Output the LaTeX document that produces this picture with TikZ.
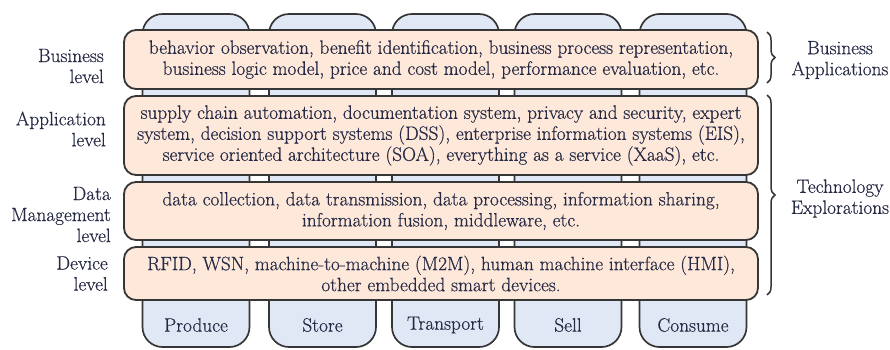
\documentclass[tikz,border=0pt]{standalone}
\usepackage{fontspec}
\setmainfont{Latin Modern Roman}[FakeBold=0.5]
\usetikzlibrary{decorations.pathreplacing}
\definecolor{colfill}{HTML}{E1E8F5}
\definecolor{layfill}{HTML}{FDE8DA}
\definecolor{edge}{HTML}{363636}
\definecolor{ink}{HTML}{262A45}
\begin{document}
\begin{tikzpicture}[x=1pt,y=-1pt,
  every node/.style={font=\fontsize{19.3}{21}\selectfont, text=ink},
  colbox/.style={draw=edge, line width=1.7pt, fill=colfill, rounded corners=20pt,
    minimum width=107pt, minimum height=333pt, inner sep=0pt},
  laybox/.style={draw=edge, line width=1.8pt, fill=layfill, rounded corners=12pt,
    minimum width=634pt, align=center, inner sep=0pt},
  lvl/.style={anchor=east, align=right, inner sep=0pt},
  cat/.style={align=center, inner sep=0pt},
  brc/.style={draw=edge, line width=1.5pt, decorate, decoration={brace, amplitude=8pt}}
]
\useasboundingbox (0,0) rectangle (890,349);
% columns
\node[colbox] (c1) at (196,180.5) {};
\node[colbox] (c2) at (322.5,180.5) {};
\node[colbox] (c3) at (445.5,180.5) {};
\node[colbox] (c4) at (568,180.5) {};
\node[colbox] (c5) at (693,180.5) {};
\node (t1) at (196,325) {Produce};
\node (t2) at (322.5,325) {Store};
\node (t3) at (445.5,325) {Transport};
\node (t4) at (568,325) {Sell};
\node (t5) at (693,325) {Consume};
% layers
\node[laybox, minimum height=59pt] (L1) at (441,59.5)
  {behavior observation, benefit identification, business process representation,\\
   business logic model, price and cost model, performance evaluation, etc.};
\node[laybox, minimum height=79pt] (L2) at (441,135.5)
  {supply chain automation, documentation system, privacy and security, expert\\
   system, decision support systems (DSS), enterprise information systems (EIS),\\
   service oriented architecture (SOA), everything as a service (XaaS), etc.};
\node[laybox, minimum height=58pt] (L3) at (441,211)
  {data collection, data transmission, data processing, information sharing,\\
   information fusion, middleware, etc.};
\node[laybox, minimum height=53pt] (L4) at (441,273.5)
  {RFID, WSN, machine-to-machine (M2M), human machine interface (HMI),\\
   other embedded smart devices.};
% left labels
\node[lvl] (l1) at (104,66) {Business\\level};
\node[lvl] (l2) at (106,129) {Application\\level};
\node[lvl] (l3) at (111,214.5) {Data\\Management\\level};
\node[lvl] (l4) at (108,273.5) {Device\\level};
% braces
\coordinate (b1a) at (767,32);
\coordinate (b1b) at (767,83);
\coordinate (b2a) at (767,95);
\coordinate (b2b) at (767,295);
\draw[brc] (b1a) -- (b1b);
\draw[brc] (b2a) -- (b2b);
\node[cat] (r1) at (840,60) {Business\\Applications};
\node[cat] (r2) at (840,198.5) {Technology\\Explorations};
\end{tikzpicture}
\end{document}
